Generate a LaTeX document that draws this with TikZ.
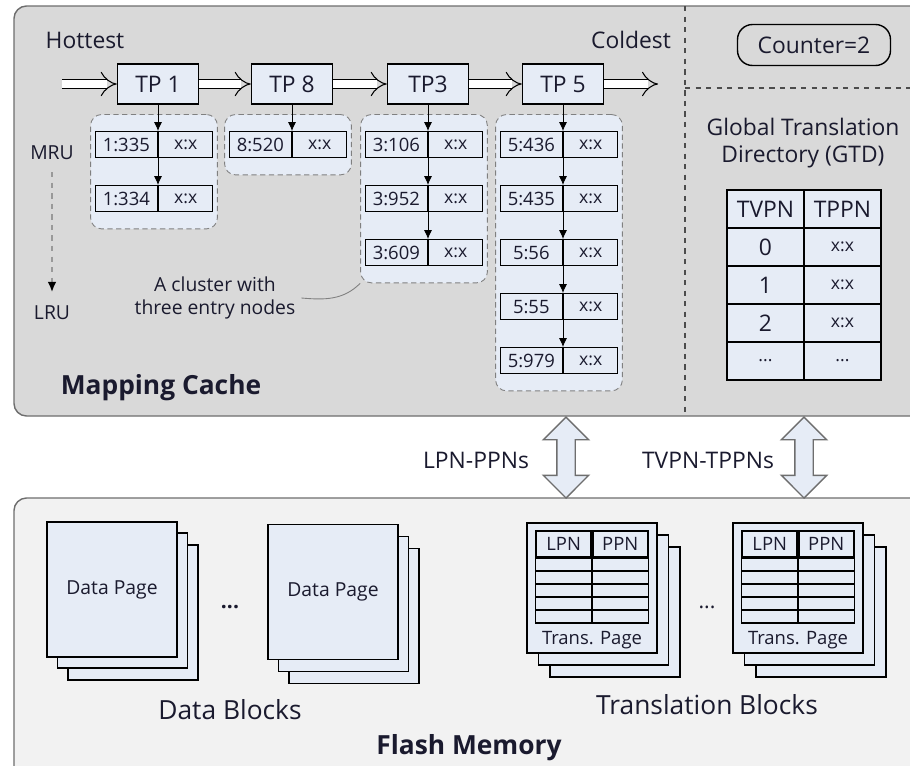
\documentclass[tikz,border=0pt]{standalone}
\usepackage{fontspec}
\setmainfont{Open Sans}
\usetikzlibrary{positioning,fit,backgrounds,arrows.meta,shapes.arrows}

\definecolor{cachegray}{HTML}{D9D9D9}
\definecolor{flashgray}{HTML}{F2F2F2}
\definecolor{paleblue}{HTML}{E6ECF6}
\definecolor{edgegray}{HTML}{6E6E6E}
\definecolor{inkdark}{HTML}{1A1A2E}

\tikzset{
  bigtext/.style={font=\fontsize{13}{15.4}\selectfont},
  labeltext/.style={font=\fontsize{15}{18}\selectfont},
  boldlabel/.style={font=\fontsize{15}{18}\selectfont\bfseries},
  smalltext/.style={font=\fontsize{11}{12.6}\selectfont},
  tinytext/.style={font=\fontsize{10}{11}\selectfont},
  tpbox/.style={draw, fill=paleblue, line width=0.9pt, minimum width=1.62cm,
    minimum height=0.8cm, inner sep=0pt, bigtext},
  keycell/.style={draw, fill=paleblue, line width=0.8pt, minimum width=1.24cm,
    minimum height=0.52cm, inner sep=0pt, anchor=north east,
    font=\fontsize{10.5}{12}\selectfont},
  valcell/.style={draw, fill=paleblue, line width=0.8pt, minimum width=1.08cm,
    minimum height=0.52cm, inner sep=0pt, anchor=north west, tinytext},
  cluster/.style={draw=gray, densely dashed, line width=0.5pt, fill=paleblue,
    rounded corners=0.22cm, inner xsep=0.08cm, inner ysep=0.33cm},
  hotlink/.style={double, double distance=4.4pt, line width=0.6pt,
    -{Implies[scale=1.5]}},
  entrylink/.style={-{Latex[length=5pt, width=4.5pt]}, line width=0.5pt},
  gtdcell/.style={draw, fill=paleblue, line width=0.9pt, minimum width=1.54cm,
    minimum height=0.76cm, inner sep=0pt},
  page/.style={draw, fill=paleblue, line width=0.9pt, minimum width=2.6cm,
    minimum height=2.7cm, inner sep=0pt, font=\fontsize{11}{13}\selectfont},
  tpage/.style={page, minimum height=2.6cm},
  hdrcell/.style={draw, line width=0.9pt, minimum width=1.1cm,
    minimum height=0.52cm, inner sep=0pt, font=\fontsize{10.5}{12}\selectfont},
  fatarrow/.style={double arrow, draw=edgegray, fill=paleblue, line width=0.8pt,
    rotate=90, minimum height=1.62cm, inner sep=0pt, inner ysep=0.17cm,
    minimum width=0.88cm, double arrow head extend=0.27cm},
}

\begin{document}
\begin{tikzpicture}[x=0.02cm, y=-0.02cm, text=inkdark]
  \useasboundingbox (0,0) rectangle (910,765);
  \begin{scope}[on background layer]
    \fill[white] (0,0) rectangle (910,765);
    \draw[edgegray, fill=cachegray, line width=0.8pt, rounded corners=0.25cm]
      (14,6) rectangle (940,416);
    \draw[edgegray, fill=flashgray, line width=0.8pt, rounded corners=0.25cm]
      (14,498) rectangle (940,790);
  \end{scope}
  \draw[dashed, line width=0.8pt, black!70] (685,6) -- (685,416);
  \draw[dashed, line width=0.8pt, black!70] (685,88) -- (910,88);

  % hot list of translation pages
  \node[bigtext] (hot) at (85,40) {Hottest};
  \node[bigtext] (cold) at (631,40) {Coldest};
  \coordinate (chainin) at (62,84);
  \coordinate (chainout) at (658,84);
  \node[tpbox] (tp1) at (158,84) {TP 1};
  \node[tpbox] (tp8) at (292,84) {TP 8};
  \node[tpbox] (tp3) at (428,84) {TP3};
  \node[tpbox] (tp5) at (563,84) {TP 5};
  \draw[hotlink] (chainin) -- (tp1);
  \draw[hotlink] (tp1) -- (tp8);
  \draw[hotlink] (tp8) -- (tp3);
  \draw[hotlink] (tp3) -- (tp5);
  \draw[hotlink] (tp5) -- (chainout);

  % entry nodes
  \node[keycell] (k1a) at (158,131) {1:335};
  \node[valcell] (v1a) at (158,131) {x:x};
  \node[keycell] (k1b) at (158,185) {1:334};
  \node[valcell] (v1b) at (158,185) {x:x};
  \node[keycell] (k8a) at (292,131) {8:520};
  \node[valcell] (v8a) at (292,131) {x:x};
  \node[keycell] (k3a) at (428,131) {3:106};
  \node[valcell] (v3a) at (428,131) {x:x};
  \node[keycell] (k3b) at (428,185) {3:952};
  \node[valcell] (v3b) at (428,185) {x:x};
  \node[keycell] (k3c) at (428,239) {3:609};
  \node[valcell] (v3c) at (428,239) {x:x};
  \node[keycell] (k5a) at (563,131) {5:436};
  \node[valcell] (v5a) at (563,131) {x:x};
  \node[keycell] (k5b) at (563,185) {5:435};
  \node[valcell] (v5b) at (563,185) {x:x};
  \node[keycell] (k5c) at (563,239) {5:56};
  \node[valcell] (v5c) at (563,239) {x:x};
  \node[keycell] (k5d) at (563,293) {5:55};
  \node[valcell] (v5d) at (563,293) {x:x};
  \node[keycell] (k5e) at (563,347) {5:979};
  \node[valcell] (v5e) at (563,347) {x:x};

  \draw[entrylink] (tp1.south) -- (k1a.north east);
  \draw[entrylink] (k1a.south east) -- (k1b.north east);
  \draw[entrylink] (tp8.south) -- (k8a.north east);
  \draw[entrylink] (tp3.south) -- (k3a.north east);
  \draw[entrylink] (k3a.south east) -- (k3b.north east);
  \draw[entrylink] (k3b.south east) -- (k3c.north east);
  \draw[entrylink] (tp5.south) -- (k5a.north east);
  \draw[entrylink] (k5a.south east) -- (k5b.north east);
  \draw[entrylink] (k5b.south east) -- (k5c.north east);
  \draw[entrylink] (k5c.south east) -- (k5d.north east);
  \draw[entrylink] (k5d.south east) -- (k5e.north east);

  \begin{scope}[on background layer]
    \node[cluster, fit=(k1a)(v1b)] (c1) {};
    \node[cluster, fit=(k8a)(v8a)] (c8) {};
    \node[cluster, fit=(k3a)(v3c)] (c3) {};
    \node[cluster, fit=(k5a)(v5e)] (c5) {};
  \end{scope}

  \node[smalltext] (mru) at (52,153) {MRU};
  \node[smalltext] (lru) at (52,313) {LRU};
  \draw[dashed, line width=1.6pt, black!40,
    -{Latex[color=black, length=6pt, width=5pt]},
    shorten <=0.12cm, shorten >=0.15cm] (mru) -- (lru);

  \node[smalltext, align=center] (note) at (215,298)
    {A cluster with\\three entry nodes};
  \draw[gray, line width=0.5pt] (note.east) to[out=-5, in=225] (c3.south west);
  \node[boldlabel] (cachelabel) at (161,388) {Mapping Cache};

  % GTD side
  \node[draw, line width=0.8pt, rounded corners=0.3cm, minimum width=3.06cm,
    minimum height=0.82cm, bigtext] (counter) at (814,45) {Counter=2};
  \node[bigtext, align=center] (gtdtitle) at (803,143)
    {Global Translation\\Directory (GTD)};
  \node[gtdcell, bigtext] (g0a) at (765.5,209) {TVPN};
  \node[gtdcell, bigtext] (g0b) at (842.5,209) {TPPN};
  \node[gtdcell, bigtext] (g1a) at (765.5,247) {0};
  \node[gtdcell, tinytext] (g1b) at (842.5,247) {x:x};
  \node[gtdcell, bigtext] (g2a) at (765.5,285) {1};
  \node[gtdcell, tinytext] (g2b) at (842.5,285) {x:x};
  \node[gtdcell, bigtext] (g3a) at (765.5,323) {2};
  \node[gtdcell, tinytext] (g3b) at (842.5,323) {x:x};
  \node[gtdcell, tinytext] (g4a) at (765.5,361) {...};
  \node[gtdcell, tinytext] (g4b) at (842.5,361) {...};

  % transfers
  \node[fatarrow] (lpnarrow) at (566,457.5) {};
  \node[fatarrow] (tvpnarrow) at (804,457.5) {};
  \node[bigtext] (lpnlabel) at (476,460) {LPN-PPNs};
  \node[bigtext] (tvpnlabel) at (708,460) {TVPN-TPPNs};

  % flash memory
  \node[page] (d1c) at (133,612.5) {};
  \node[page] (d1b) at (122.5,600.5) {};
  \node[page] (d1a) at (112,589.5) {Data Page};
  \node[page] (d2c) at (354,616) {};
  \node[page] (d2b) at (343.5,604) {};
  \node[page] (d2a) at (333,592) {Data Page};
  \node[font=\bfseries\fontsize{12}{14}\selectfont] (ddots) at (230,607) {...};
  \node[labeltext] (datalabel) at (230,710) {Data Blocks};

  \node[tpage] (t1c) at (615,612) {};
  \node[tpage] (t1b) at (603.5,600) {};
  \node[tpage] (t1a) at (592,588) {};
  \node[tpage] (t2c) at (821,612) {};
  \node[tpage] (t2b) at (809.5,600) {};
  \node[tpage] (t2a) at (798,588) {};
  \foreach \t in {1,2} {
    \node[hdrcell, anchor=north east] (lpn\t) at ([yshift=-0.16cm]t\t a.north) {LPN};
    \node[hdrcell, anchor=north west] (ppn\t) at ([yshift=-0.16cm]t\t a.north) {PPN};
    \draw[line width=0.9pt] (lpn\t.south west) rectangle ([yshift=-1.3cm]ppn\t.south east);
    \draw[line width=0.9pt] (lpn\t.south east) -- ([yshift=-1.3cm]lpn\t.south east);
    \foreach \r in {1,...,4}
      \draw[line width=0.9pt] ([yshift=-\r*0.26cm]lpn\t.south west)
        -- ([yshift=-\r*0.26cm]ppn\t.south east);
    \node[font=\fontsize{10.5}{12}\selectfont] (tlabel\t) at ([yshift=0.28cm]t\t a.south) {Trans. Page};
  }
  \node[font=\fontsize{12}{14}\selectfont] (tdots) at (707,607) {...};
  \node[labeltext] (translabel) at (707,705) {Translation Blocks};
  \node[boldlabel] (flashlabel) at (469,748) {Flash Memory};
\end{tikzpicture}
\end{document}
